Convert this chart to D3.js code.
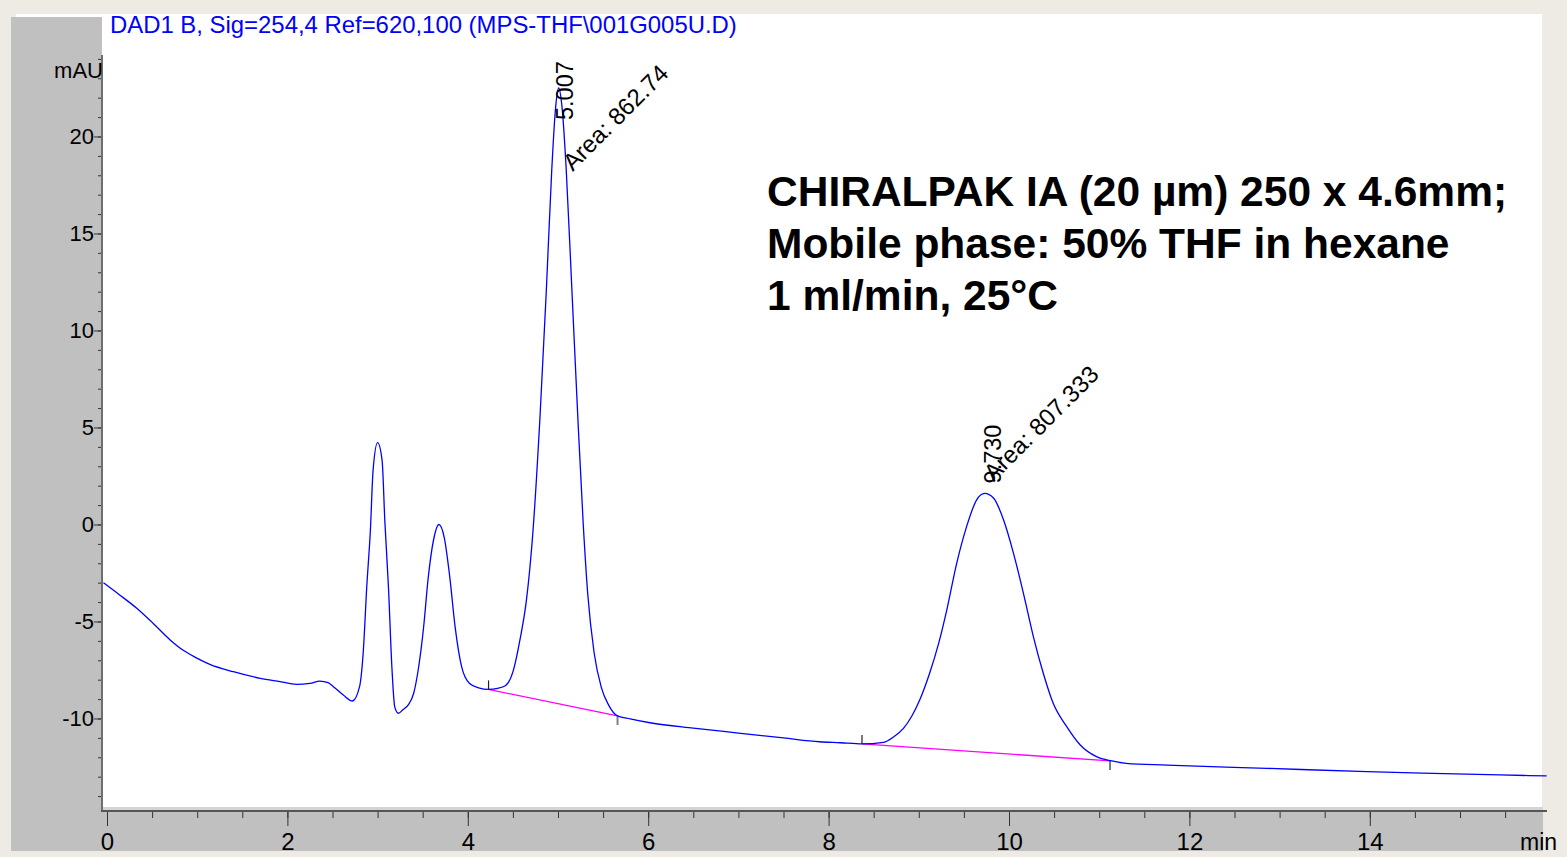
<!DOCTYPE html>
<html>
<head>
<meta charset="utf-8">
<script src="https://cdn.jsdelivr.net/npm/d3@7"></script>
<style>
  body { margin: 0; background: #EDEBE3; }
  svg { display: block; font-family: Arial, "Liberation Sans", sans-serif; }
</style>
</head>
<body>
<div id="chart"></div>
<script>
// chromatogram trace (time in min, signal in mAU)
var times = [-0.04, 0.14, 0.33, 0.51, 0.70, 0.85, 0.98, 1.14, 1.40, 1.70, 1.92, 2.10, 2.25, 2.36, 2.45,
    2.51, 2.62, 2.72, 2.80, 2.84, 2.88, 2.92, 2.95, 3.00, 3.05, 3.08, 3.12, 3.16, 3.19, 3.23, 3.28,
    3.34, 3.40, 3.45, 3.51, 3.56, 3.62, 3.68, 3.74, 3.80, 3.86, 3.93, 4.02, 4.12, 4.23, 4.33, 4.42,
    4.50, 4.58, 4.65, 4.72, 4.80, 4.87, 4.93, 4.97, 5.007, 5.045, 5.09, 5.15, 5.22, 5.28, 5.33, 5.40,
    5.48, 5.56, 5.66, 5.80, 6.02, 6.50, 7.00, 7.50, 7.90, 8.13, 8.37, 8.61, 8.72, 8.83, 8.92, 9.01,
    9.12, 9.22, 9.31, 9.42, 9.53, 9.64, 9.73, 9.83, 9.94, 10.05, 10.16, 10.27, 10.38, 10.49, 10.64,
    10.79, 10.97, 11.14, 11.30, 11.75, 12.86, 13.97, 14.70, 15.44, 15.96];
var signal = [-3.00, -3.63, -4.32, -5.09, -5.95, -6.50, -6.85, -7.21, -7.59, -7.93, -8.10, -8.24, -8.19, -8.07, -8.15,
    -8.36, -8.79, -9.10, -8.36, -6.64, -3.20, -0.30, 2.80, 4.22, 3.30, 0.20, -3.20, -7.50, -9.40, -9.73, -9.55,
    -9.30, -8.70, -7.50, -5.30, -2.80, -0.80, 0.00, -0.70, -2.70, -5.30, -7.30, -8.20, -8.42, -8.50, -8.45, -8.30,
    -7.60, -5.90, -3.90, -0.50, 5.50, 12.00, 18.20, 21.30, 22.50, 21.50, 18.40, 12.50, 5.50, 0.00, -3.60, -6.60,
    -8.40, -9.30, -9.87, -10.02, -10.22, -10.50, -10.75, -11.00, -11.20, -11.25, -11.31, -11.23, -10.95, -10.51, -9.90, -9.05,
    -7.67, -6.13, -4.41, -2.00, -0.11, 1.26, 1.60, 1.35, 0.23, -1.49, -3.55, -5.78, -7.67, -9.22, -10.42,
    -11.37, -11.97, -12.19, -12.31, -12.40, -12.57, -12.74, -12.83, -12.91, -12.96];

// integrated peaks
var peakTimes = [5.007, 9.730];
var peakHeights = [22.5, 1.6];
var peakAreas = ['862.74', '807.333'];
var baseStart = [[4.23, -8.50], [8.37, -11.31]];
var baseEnd = [[5.66, -9.87], [11.12, -12.19]];

var yMajorTicks = [-10, -5, 0, 5, 10, 15, 20];
var yMinorTicks = d3.range(-14, 25, 1);
var xMajorTicks = [0, 2, 4, 6, 8, 10, 12, 14];
var xMinorTicks = d3.range(0, 16, 0.5);

var signalTitle = 'DAD1 B, Sig=254,4 Ref=620,100 (MPS-THF\\001G005U.D)';
var noteLines = ['CHIRALPAK IA (20 \u00b5m) 250 x 4.6mm;', 'Mobile phase: 50% THF in hexane', '1 ml/min, 25\u00b0C'];

var width = 1567, height = 857;

var svg = d3.select('#chart').append('svg')
    .attr('width', width)
    .attr('height', height);

// window frame
svg.append('rect').attr('width', width).attr('height', height).attr('fill', '#EDEBE3');
svg.append('rect').attr('x', 16).attr('y', 14).attr('width', 1526).attr('height', 793).attr('fill', '#ffffff');
svg.append('rect').attr('x', 11).attr('y', 17).attr('width', 91).attr('height', 834).attr('fill', '#C0C0C0');
svg.append('rect').attr('x', 11).attr('y', 807).attr('width', 1532).attr('height', 44).attr('fill', '#C0C0C0');
svg.append('rect').attr('x', 102).attr('y', 807).attr('width', 1441).attr('height', 3).attr('fill', '#D4D4D4');

var xScale = d3.scaleLinear().domain([0, 16]).range([107, 107 + 16 * 90.2]);
var yScale = d3.scaleLinear().domain([-14.8, 24.2]).range([811.6, 55]);

var plainNum = function (d) { return String(d); };

// y axis: minor then major ticks
var yMinor = svg.append('g').attr('transform', 'translate(102,0)')
    .call(d3.axisLeft(yScale).tickValues(yMinorTicks).tickSize(4).tickFormat(''));
var yMajor = svg.append('g').attr('transform', 'translate(102,0)')
    .call(d3.axisLeft(yScale).tickValues(yMajorTicks).tickSize(8).tickPadding(0).tickFormat(plainNum));

// x axis
var xMinor = svg.append('g').attr('transform', 'translate(0,811)')
    .call(d3.axisBottom(xScale).tickValues(xMinorTicks).tickSize(7).tickFormat(''));
var xMajor = svg.append('g').attr('transform', 'translate(0,811)')
    .call(d3.axisBottom(xScale).tickValues(xMajorTicks).tickSize(15).tickPadding(7).tickFormat(plainNum));

svg.selectAll('.domain').remove();
svg.selectAll('.tick line').attr('stroke', '#333');
yMajor.selectAll('text').attr('font-size', 22).attr('fill', '#000').attr('font-family', 'Arial, "Liberation Sans"');
xMajor.selectAll('text').attr('font-size', 24).attr('fill', '#000').attr('font-family', 'Arial, "Liberation Sans"');

// axis lines
svg.append('line').attr('x1', 102).attr('x2', 102).attr('y1', 55).attr('y2', 812)
    .attr('stroke', '#6e6e6e').attr('stroke-width', 2);
svg.append('line').attr('x1', 101).attr('x2', 1547).attr('y1', 811).attr('y2', 811)
    .attr('stroke', '#555').attr('stroke-width', 2);

svg.append('text').attr('x', 103).attr('y', 78).attr('text-anchor', 'end')
    .attr('font-size', 22).text('mAU');
svg.append('text').attr('x', 1520).attr('y', 850)
    .attr('font-size', 23).text('min');

// header
svg.append('text').attr('x', 110).attr('y', 33)
    .attr('font-size', 23.9).attr('fill', '#0000FF').text(signalTitle);

// baselines
var baseG = svg.append('g');
baseStart.forEach(function (s, i) {
    var e = baseEnd[i];
    baseG.append('line')
        .attr('x1', xScale(s[0])).attr('y1', yScale(s[1]))
        .attr('x2', xScale(e[0])).attr('y2', yScale(e[1]))
        .attr('stroke', '#FF00FF').attr('stroke-width', 1.3);
    baseG.append('line')
        .attr('x1', xScale(s[0])).attr('x2', xScale(s[0]))
        .attr('y1', yScale(s[1]) - 9).attr('y2', yScale(s[1]))
        .attr('stroke', '#222').attr('stroke-width', 1.2);
    baseG.append('line')
        .attr('x1', xScale(e[0])).attr('x2', xScale(e[0]))
        .attr('y1', yScale(e[1])).attr('y2', yScale(e[1]) + 9)
        .attr('stroke', i === 0 ? '#808080' : '#222').attr('stroke-width', i === 0 ? 2 : 1.2);
});

// trace
var trace = d3.range(times.length).map(function (i) { return [times[i], signal[i]]; });
var line = d3.line()
    .x(function (d) { return xScale(d[0]); })
    .y(function (d) { return yScale(d[1]); })
    .curve(d3.curveMonotoneX);

svg.append('path').datum(trace)
    .attr('d', line)
    .attr('fill', 'none')
    .attr('stroke', '#0000FF')
    .attr('stroke-width', 1.3);

// peak labels (offsets relative to apex)
var rtOffset = [[14, 32], [16, -10]];
var areaOffset = [[14, 84], [9, -11]];
peakTimes.forEach(function (rt, i) {
    var px = xScale(rt), py = yScale(peakHeights[i]);
    svg.append('text')
        .attr('transform', 'translate(' + (px + rtOffset[i][0]) + ',' + (py + rtOffset[i][1]) + ') rotate(-90)')
        .attr('font-size', 23.5)
        .text(rt.toFixed(3));
    svg.append('text')
        .attr('transform', 'translate(' + (px + areaOffset[i][0]) + ',' + (py + areaOffset[i][1]) + ') rotate(-45)')
        .attr('font-size', 24)
        .text('Area: ' + peakAreas[i]);
});

// method note
svg.append('text')
    .attr('x', 767).attr('y', 206)
    .attr('font-size', 42.5).attr('font-weight', 'bold')
    .selectAll('tspan').data(noteLines).enter().append('tspan')
    .attr('x', 767)
    .attr('dy', function (d, i) { return i === 0 ? 0 : 52; })
    .text(function (d) { return d; });
</script>
</body>
</html>
